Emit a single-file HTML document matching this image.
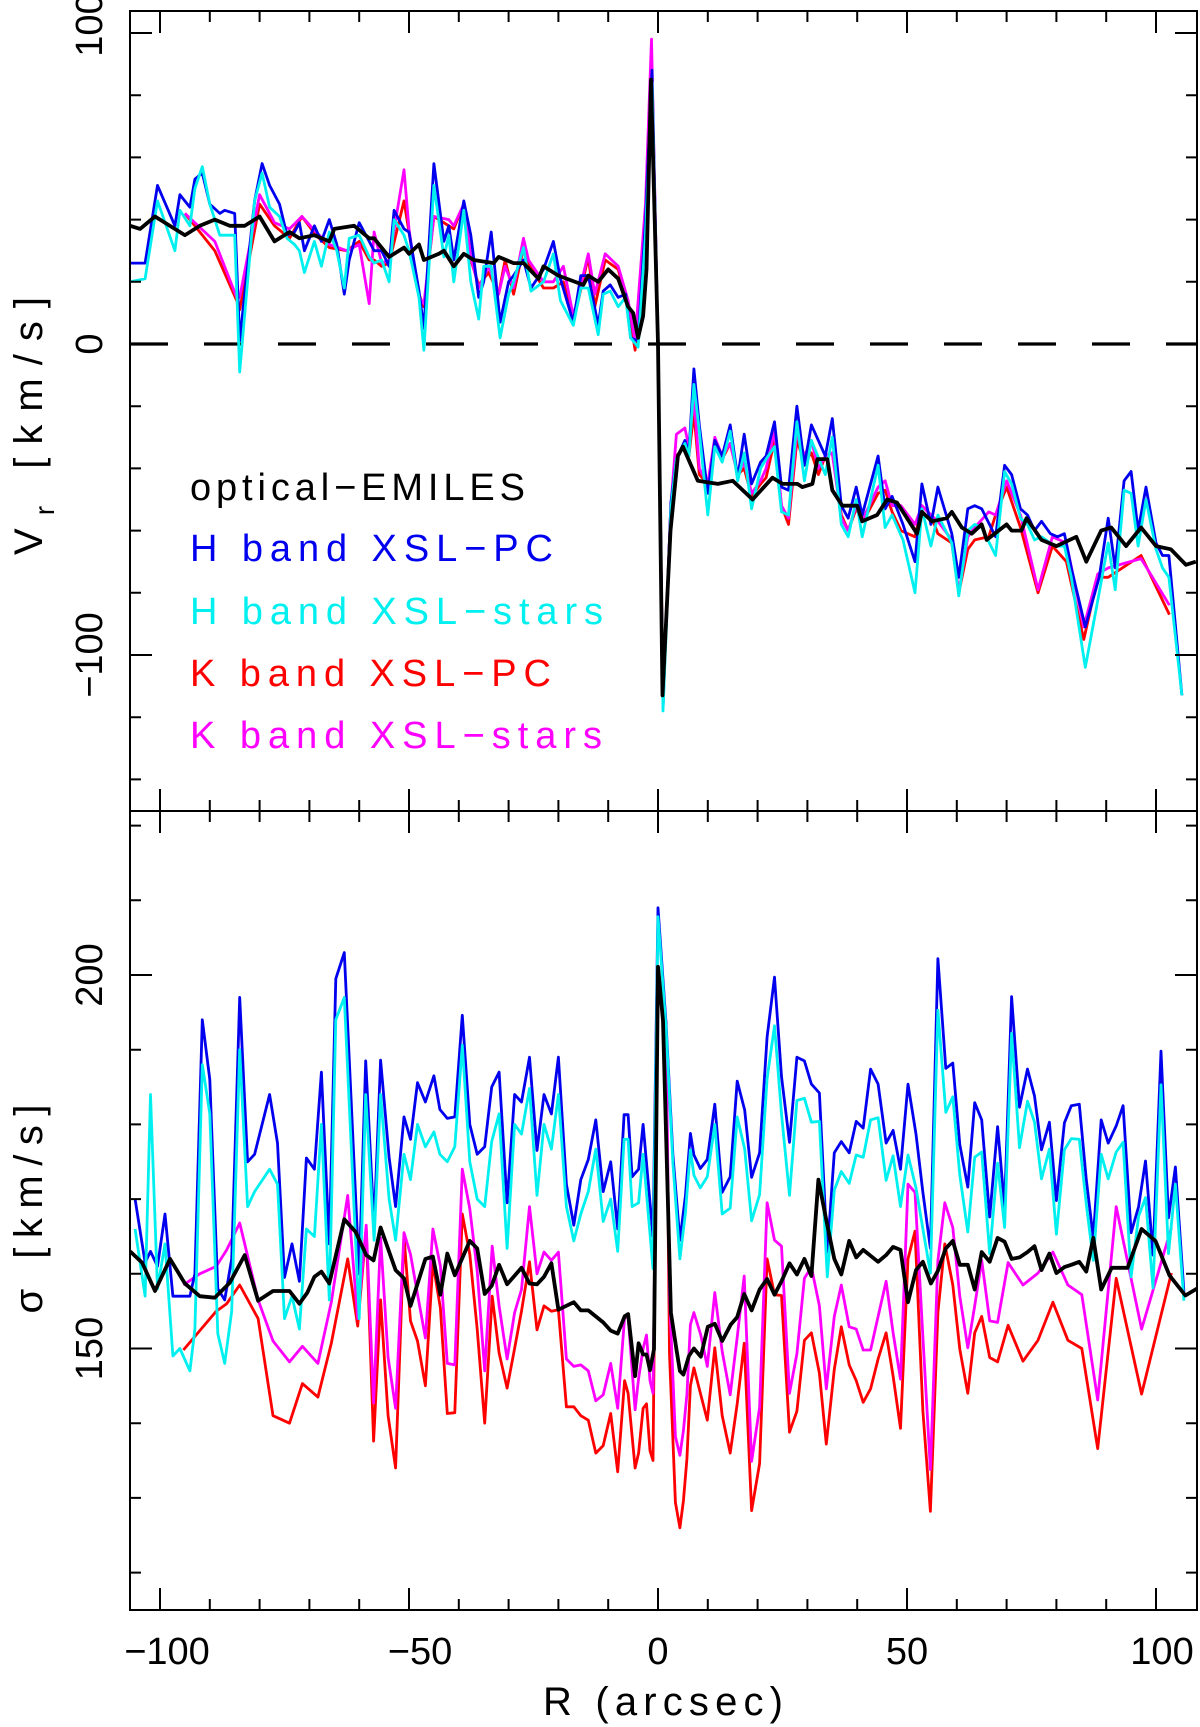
<!DOCTYPE html>
<html><head><meta charset="utf-8"><style>
html,body{margin:0;padding:0;background:#fff}
svg{display:block}
text{font-family:"Liberation Sans",sans-serif;fill:#000}
</style></head><body>
<svg id="chart" width="1200" height="1727" viewBox="0 0 1200 1727" xmlns="http://www.w3.org/2000/svg">
<defs>
<clipPath id="clipTop"><rect x="130" y="11" width="1067" height="800"/></clipPath>
<clipPath id="clipBot"><rect x="130" y="811" width="1067" height="799"/></clipPath>
</defs>
<g id="marks"></g>
<g id="axes"></g>
<text transform="translate(42,426) rotate(-90)" text-anchor="middle" font-size="40" textLength="258">V<tspan font-size="28" dy="12">r</tspan><tspan dy="-12"> [km/s]</tspan></text>
<text transform="translate(42,1209) rotate(-90)" text-anchor="middle" font-size="40" textLength="209">σ [km/s]</text>
<text x="663" y="1715" text-anchor="middle" font-size="40" textLength="240">R (arcsec)</text>
<g font-size="38">
<text x="190" y="500" textLength="335" style="fill:#000">optical−EMILES</text>
<text x="190" y="561" textLength="363" style="fill:#0000ee">H band XSL−PC</text>
<text x="190" y="624" textLength="413" style="fill:#00f0f0">H band XSL−stars</text>
<text x="190" y="686" textLength="361" style="fill:#ff0000">K band XSL−PC</text>
<text x="190" y="748" textLength="412" style="fill:#ff00ff">K band XSL−stars</text>
</g>
</svg>
<script>
// ---------- data: top panel (rotation velocity) ----------
const vrR_H = [-106,-103,-100.5,-97,-96,-94,-93,-91.5,-90,-88,-87,-85,-84,-81,-79.5,-78,-76,-74.5,-73,-72,-71,-69,-67.6,-66,-64.5,-63,-62,-60,-58,-57,-55.5,-54,-53,-51,-50,-48,-47,-45,-43,-42,-41,-39,-37.6,-36,-35,-33.5,-31.7,-30,-29,-27,-25.5,-23,-21,-19.6,-17,-15.5,-14,-12,-11,-9.6,-8,-6.5,-5.5,-4,-2.5,-1.2,0,1,2,
 2.6,3.7,5.4,6.2,7.2,8.3,10,11.4,12.9,14.5,16,17.3,18.8,20.6,21.7,23.4,24.8,26.2,27.9,29.4,30.8,33.6,35,36.8,38.2,39.8,41,44.2,45.6,47,49.2,51.6,53,54.8,56.2,59,60.4,62.2,63.6,65,67.8,69.6,71,72.8,74.2,75.6,77,78.8,80.2,81.6,83,85.8,88.6,90.4,91.8,93.6,95,96.4,98,100,101.3,102.6,105.2];
const vr_HPC = [26,26,51,38,48,44,53,55,45,42,43,42,1,46,58,51,45,35,36,39,30,38,33,40,32,16,27,39,33,30,30,25,43,37,36,17,5,58,33,38,27,46,35,15,20,36,7,20,22,27,18,24,33,21,7,22,22,6,17,19,15,16,2,1,40,88,0,-117,-75,
 -51,-37,-31,-35,-8,-26,-48,-31,-36,-26,-43,-29,-45,-38,-36,-25,-46,-47,-20,-39,-26,-36,-24,-52,-56,-46,-55,-36,-53,-49,-58,-70,-45,-58,-46,-61,-75,-53,-52,-53,-62,-39,-42,-53,-55,-60,-57,-61,-62,-61,-72,-91,-75,-56,-72,-44,-41,-60,-46,-64,-68,-68,-113];
const vr_HST = [20,21,46,30,43,38,50,57,45,35,35,35,-9,46,55,44,41,34,32,30,23,33,25,36,30,18,34,35,28,26,27,20,40,35,30,15,-2,51,28,35,20,43,20,8,25,25,2,16,20,31,17,20,29,14,6,18,18,3,16,17,12,15,2,-1,35,84,0,-118,-78,
 -53,-37,-32,-36,-13,-28,-55,-33,-38,-28,-44,-35,-53,-40,-37,-33,-54,-55,-25,-44,-31,-42,-30,-58,-62,-50,-62,-39,-59,-55,-63,-80,-53,-65,-55,-64,-81,-60,-58,-59,-68,-41,-45,-56,-58,-63,-62,-64,-65,-65,-75,-104,-80,-64,-79,-47,-48,-65,-50,-66,-72,-75,-113];
const vrR_K = [-95,-89,-84.6,-84,-80,-77,-74,-71.5,-68.7,-66,-62.5,-60,-58,-57,-55.5,-54,-51,-50,-48,-47,-45,-42,-41,-39,-37.6,-36,-34,-32,-30.7,-29,-27,-26,-23,-21,-19,-17,-14,-12.7,-10.6,-8,-6,-4.6,-2.5,-1.3,0,1,2,
 2.6,3.7,5.4,6.2,7.2,8.3,10,11.4,12.9,14.5,16,17.3,18.8,20.6,21.7,23.4,24.8,26.2,27.9,29.4,30.8,32.2,33.6,35,36.8,38.2,39.8,41.2,44.2,45.6,47,48.8,51.6,53,54.8,56.2,59,60.4,62.2,63.6,66.4,67.8,70,72.8,76.3,79.2,82,85.5,88.3,90.4,97,102.7];
const vr_KPC = [42,30,14,11,45,38,34,41,35,31,30,33,27,27,25,26,46,36,16,12,41,38,37,45,27,19,23,16,27,16,31,26,18,18,20,7,28,12,27,24,12,-2,40,90,0,-115,-75,
 -52,-36,-33,-36,-22,-42,-45,-31,-37,-32,-42,-40,-49,-45,-43,-31,-52,-58,-31,-38,-35,-42,-36,-35,-55,-60,-53,-57,-48,-47,-54,-60,-62,-52,-55,-61,-64,-80,-66,-63,-62,-55,-46,-59,-80,-65,-70,-95,-75,-75,-68,-87];
const vr_KST = [42,33,15,15,48,39,37,41,36,32,30,32,13,36,26,27,56,37,15,13,41,40,38,45,28,18,25,16,25,18,34,27,20,20,25,9,29,16,29,25,14,1,45,98,0,-115,-75,
 -52,-29,-27,-33,-17,-40,-45,-30,-36,-32,-42,-38,-48,-44,-40,-28,-52,-56,-28,-36,-31,-40,-36,-35,-56,-60,-52,-56,-46,-44,-52,-52,-58,-52,-55,-57,-63,-80,-62,-59,-54,-55,-44,-55,-79,-62,-64,-91,-74,-72,-69,-84];
const vrR_OPT = [-106,-104,-101,-95,-92,-89,-86,-83,-80,-77,-74,-72,-69,-66,-65,-61,-58,-57,-54,-51,-50,-48,-47,-44,-43,-41,-39,-37,-33,-32,-29,-27,-24,-23,-20,-15,-14,-12,-10,-8,-6,-5,-4,-3,-2.3,-1.4,0,0.9,2.5,4,
 5,8,12,15,19,23,25,28,29,31,32,34,35,37,40,41,44,46,48,52,53,55,58,59,61,63,65,66,70,71,73,74,77,80,84,86,89,91,94,97,100,103,106,108];
const vr_OPT = [38,37,41,35,38,40,38,38,41,33,36,34,35,33,37,38,34,34,28,31,29,32,27,29,30,25,29,27,26,28,26,26,21,25,22,19,22,20,24,21,12,10,2,9,24,85,0,-113,-60,-36,
 -33,-44,-45,-44,-50,-43,-45,-45,-46,-45,-37,-37,-47,-52,-52,-57,-55,-50,-51,-61,-54,-57,-56,-54,-59,-61,-58,-63,-58,-60,-60,-56,-63,-65,-62,-70,-60,-59,-65,-59,-65,-66,-71,-70];

// ---------- data: bottom panel (velocity dispersion) ----------
const sgR_H = [-105,-103,-101.9,-100.5,-99,-97.4,-96,-94,-93,-91.5,-90,-88.4,-87,-85.6,-84,-82.4,-81,-78,-76.4,-75,-73.5,-72,-70.6,-69,-67.6,-66,-64.7,-63,-60,-58.7,-57,-55.7,-54,-52.7,-51,-49.7,-48.3,-46.7,-45,-43.8,-42.3,-40.8,-39.3,-37.8,-36.3,-34.8,-33.4,-31.9,-30.3,-28.8,-27.4,-25.8,-24.3,-22.9,-21.4,-20,-18.4,-16.9,-15.5,-14,-12.5,-11,-9.5,-8.1,-6.8,-6,-5.2,-3.9,-3,-1,0,
 1.6,3,4.4,5.5,6.5,7.2,8.5,9.9,11.4,12.9,14.5,15.9,17.4,18.8,20.4,21.9,23.4,24.8,26.4,27.9,29.4,30.8,32.4,34,35.4,36.8,38.4,39.8,41.2,42.7,44.2,45.8,47.2,48.7,50.2,51.8,53.2,54.7,56.2,57.8,59.2,60.6,62.2,63.6,65,66.6,68.2,69.6,71,72.6,74.2,75.6,77,78.6,80,81.6,83,84.6,86,87.4,89,90.4,92,93.4,95,96.5,97.9,99.4,101,102.5,103.9,105.6];
const sg_HPC = [170,161.5,163,161,168,157,157,157,160,194,186,158,156.5,162,197,175,176,184,177.5,159.5,164,159,175.5,174,187,164,199.5,203,160,188.5,166.5,188.6,175.6,169,181,178,185.6,183,186.5,182,180.8,181,194.6,180,176,177,185,187,169.5,184,183,189,176.5,184,181.4,189,172,166.5,172.6,175.3,180.6,171,175,166,181.3,181.3,173,174,180,165,209,
 193.6,175.9,164.5,170.4,178.8,175.9,174.1,175.3,182.7,170.9,173,185.8,181.9,172.9,176.2,191.7,199.7,186.4,177.6,189,188.5,185.4,184.2,162.9,176.2,177.7,176.2,180.4,179.5,187.4,185.4,177.5,179.2,174,185.4,178.7,170.9,163.4,202.2,187.5,188.2,177.3,171.6,182.9,180.6,167.6,179.7,169,197.1,182.3,187.4,183.8,176.6,180.3,169.8,180.2,182.5,182.7,172.6,164.8,180.6,177.5,179.8,182.5,165.5,169,175.1,162.5,189.8,167.5,174.3,157.6];
const sg_HST = [166,157,184,158,164,149,150,147,152.6,188,181.4,152,148,155,190,169,171,174,172,154,157,152.6,166,165,180,156.5,194,197,154,184,164.5,184,170,164.5,176,172.6,180,177,179,176,175,177,190.6,175,170,169,177.7,181.4,163.4,180,178.7,184.8,170.5,180,176.7,184,169,164.4,168,171,176.7,167,170,163,178,178,169,169.5,176,160.7,207.8,
 193,174.8,162,168.1,176.6,173.2,171.5,173,180,168,168.8,181,176.7,167.1,170.6,186.1,193.2,181.4,170.5,183.2,183.5,180.3,180.4,159.6,171.2,173.7,172.1,175.9,175.6,180.6,180.9,172.5,175.8,169,175.9,171.5,166,160.1,195.3,181.6,183.7,173.2,165.6,175.6,176.3,162.7,174.8,166.2,192.2,176.9,183.1,180.3,172.7,176.7,165.3,176.6,178.1,178,169.3,161.8,176,172.7,176.3,177.6,159.6,167.7,170.2,158.1,185.3,162.7,172,156.4];
const sgR_K = [-95.3,-92,-88.7,-86.6,-84,-80.3,-77.3,-74,-71.4,-68.3,-65.6,-62.3,-60.3,-58.6,-57.1,-55.7,-54.2,-52.7,-51,-49.7,-48.3,-46.7,-45.2,-43.7,-42.3,-40.8,-39.3,-37.8,-36.3,-34.8,-33.3,-31.9,-30.3,-28.8,-27.4,-25.8,-24.3,-22.9,-21.4,-20,-18.4,-16.9,-15.5,-14,-12.5,-11,-9.5,-8.1,-6.7,-6,-4.6,-3.9,-3,-2.3,-1.6,-1,0,
 1.6,2.3,3.5,4.4,5.1,5.8,6.5,7.2,8.6,9.9,11.4,12.9,14.5,15.9,17.3,18.8,20.4,21.9,23.4,24.8,26.4,27.9,29.4,30.8,32.4,33.8,35.4,36.8,38.4,39.8,41.2,42.7,44.2,45.8,47.2,48.7,50.2,51.6,53.2,54.7,56.2,57.6,59.2,60.6,62.2,63.6,65,66.6,68.2,70.3,73.3,76.3,79.3,82.3,85.1,88.3,92,97.1,103.1];
const sg_KPC = [149.8,152.4,155,156,158.5,154,141,140,145.3,143.5,150.7,162,153,166,137.6,156.5,141,134,165,153.7,151,145,161.5,155.4,141.3,141.4,168,162.6,152.6,140,157,149.4,144.7,150,155,161.6,152.5,155.7,155,155.2,142.2,142.2,141,140.4,136,137,141.3,133.5,145.7,144,134,136,142,142.6,136.3,135,201,
 193.6,149.3,129.4,126,129.6,135.2,145,147.4,143.8,140.4,150.1,141,136,142.6,150.7,128.3,134.6,162,157.2,157.1,138.8,141.6,151.1,152.1,146.7,137.2,147.2,152.9,147.8,145.7,142.8,144.6,148.6,152.1,146.3,139.3,162,165.7,141.6,128.2,154.8,164,158.5,149.9,144,152.1,154.3,148.8,148.2,153.1,148.3,151.1,156.2,151.1,150,136.6,159.4,143.9,160.1];
const sg_KST = [158.5,160,161,163.2,166.8,156.5,151,148.2,150.3,148,156.2,170.5,154,166.5,142.7,164.8,148.8,142,165.5,162.6,157.3,151.4,166,161,148,147.8,174,168.7,160.4,147,163.7,155.7,148.6,154.8,157.9,169,160,162.9,161.8,162.9,148.6,147.6,147.8,147,143,143.8,148,142,154.2,154.3,141.8,146,150,151.8,145.7,144,200.8,
 192.5,157.1,138.2,135.7,139,143.8,153.2,154.8,151.8,147.6,157.5,149.6,143.8,151.5,159.7,134.9,142.1,169.5,164.5,163.7,144,149.3,159.4,160.9,155.7,144.6,154.3,158.5,152.9,152.6,149.8,149.8,154.3,159,152.1,145.9,172,170.9,151.5,133.8,161.8,169.5,166.2,157,150.1,155.7,161.8,153.7,153.5,161.5,158.5,160.1,162.9,158.5,157.2,143.1,169,152.6,166.2];
const sgR_OPT = [-106,-103.6,-101,-98,-95,-92,-89,-86,-83,-80.3,-77.3,-74,-72,-70.4,-69,-67.6,-66,-63,-60.7,-58.6,-57.1,-55.7,-52.7,-51,-49.7,-46.7,-45.2,-43.7,-42.3,-40.8,-37.8,-36.3,-34.8,-33.4,-31.9,-30.3,-27.4,-25.8,-24.3,-22.9,-21.4,-20,-16.9,-15.5,-14,-11,-9.5,-8.1,-6.7,-6,-4.6,-3.9,-3,-2.3,-1.6,-0.8,0,1,
 2.6,3.7,4.4,5.1,6.2,7.2,8.6,10,11.4,12.9,14.6,15.9,17.3,18.8,20.4,21.9,23.4,24.8,26.4,27.9,29.4,30.8,32.2,34,35.4,36.8,38.4,39.8,41.2,44.2,45.8,47.2,48.7,50.2,51.8,53.2,54.8,56.2,57.8,59.2,60.6,62.2,63.6,65,66.6,68.2,69.6,71,72.6,74.2,75.6,77,78.6,80,81.6,83,84.6,86,87.4,89,91.1,94.3,97.1,99.9,102.7,105.9,108.7];
const sg_OPT = [163,161.5,157.7,162,158.7,157,156.8,158.8,162.5,156.4,157.7,157.7,156,157.5,159.6,160.3,158.7,167.3,165.6,162.5,161.8,166.2,160.5,159.4,155.7,162,162.3,157.2,162.7,159.8,164.4,163.4,157.3,158.4,161.2,158.6,160.8,158.7,158.6,159.6,161.4,155.2,156.2,155.1,155.1,153.5,152.4,152,154.3,154.6,146.3,150.7,149.2,149.2,147.1,149.9,201.1,193.9,
 154.8,149.9,147,146.5,149,150,148.9,152.9,153.3,151,153.2,154.2,157.3,155.1,157.9,159.3,157.2,159,161.4,159.9,162,159.7,172.6,166.5,162,159.9,164.4,162.2,163.2,161.6,162.5,163.6,163.2,156.2,160.5,161.6,158.7,160.4,163.4,164.4,161.2,161.2,157.9,162.9,161.6,164.8,164.3,162,162.2,162.9,163.7,160.5,162.7,160.1,160.9,161.2,161.6,160.3,164.8,157.9,160.8,160.8,166,164.4,159.8,157.1,158.2];

const xTicks = [-100,-50,0,50,100];
const xTickLabels = ["−100","−50","0","50","100"];
const topTicks = [100,0,-100];
const topTickLabels = ["100","0","−100"];
const botTicks = [200,150];
const botTickLabels = ["200","150"];

// ---------- axis functions ----------
const X0=130, X1=1197, YT=11, YM=811, YB=1610;
const xs = r => 658 + 4.98*r;
const ysTop = v => 344 - 3.11*v;
const ysBot = v => 975 - 7.47*(v-200);

const NS='http://www.w3.org/2000/svg';
const marks=document.getElementById('marks');
const axes=document.getElementById('axes');
function mk(tag, attrs, parent){const e=document.createElementNS(NS,tag);for(const k in attrs)e.setAttribute(k,attrs[k]);parent.appendChild(e);return e;}

const gTop=mk('g',{'clip-path':'url(#clipTop)'},marks);


const gBot=mk('g',{'clip-path':'url(#clipBot)'},marks);



const zl=mk('line',{x1:X0,x2:X1,y1:ysTop(0),y2:ysTop(0),stroke:'#000','stroke-width':3.2,'stroke-dasharray':'38 36'},gTop);



function series(g, R, V, ys, color, w, name){
  let d='';
  for(let i=0;i<R.length && i<V.length;i++){d+=(i?'L':'M')+xs(R[i]).toFixed(1)+','+ys(V[i]).toFixed(1);}
  const p=mk('path',{d:d,fill:'none',stroke:color,'stroke-width':w,'stroke-linejoin':'round'},g);
  
  
}
series(gTop,vrR_K,vr_KPC,ysTop,'#ff0000',2.8,'vr-k-band-xsl-pc-line');
series(gTop,vrR_K,vr_KST,ysTop,'#ff00ff',2.8,'vr-k-band-xsl-stars-line');
series(gTop,vrR_H,vr_HPC,ysTop,'#0000ee',2.8,'vr-h-band-xsl-pc-line');
series(gTop,vrR_H,vr_HST,ysTop,'#00f0f0',2.8,'vr-h-band-xsl-stars-line');
series(gTop,vrR_OPT,vr_OPT,ysTop,'#000',3.8,'vr-optical-emiles-line');
series(gBot,sgR_K,sg_KPC,ysBot,'#ff0000',2.8,'sigma-k-band-xsl-pc-line');
series(gBot,sgR_K,sg_KST,ysBot,'#ff00ff',2.8,'sigma-k-band-xsl-stars-line');
series(gBot,sgR_H,sg_HPC,ysBot,'#0000ee',2.8,'sigma-h-band-xsl-pc-line');
series(gBot,sgR_H,sg_HST,ysBot,'#00f0f0',2.8,'sigma-h-band-xsl-stars-line');
series(gBot,sgR_OPT,sg_OPT,ysBot,'#000',3.8,'sigma-optical-emiles-line');

const f1=mk('rect',{x:X0,y:YT,width:X1-X0,height:YM-YT,fill:'none',stroke:'#000','stroke-width':2},axes);


const f2=mk('rect',{x:X0,y:YM,width:X1-X0,height:YB-YM,fill:'none',stroke:'#000','stroke-width':2},axes);



let td='';
for(let r=-100;r<=100;r+=10){
  const x=xs(r), L=(r%50===0)?22:11;
  td+=`M${x},${YT}v${L}M${x},${YM}v${-L}M${x},${YM}v${L}M${x},${YB}v${-L}`;
}
for(let v=-140;v<=100;v+=20){
  const y=ysTop(v), L=(v%100===0)?22:11;
  td+=`M${X0},${y}h${L}M${X1},${y}h${-L}`;
}
for(let v=120;v<=220;v+=10){
  const y=ysBot(v), L=(v%50===0)?22:11;
  td+=`M${X0},${y}h${L}M${X1},${y}h${-L}`;
}
const tk=mk('path',{d:td,stroke:'#000','stroke-width':2,fill:'none'},axes);



const xlOff=[7,11,0,0,6];
xTicks.forEach((r,i)=>{
  const t=mk('text',{x:xs(r)+xlOff[i],y:1664,'text-anchor':'middle','font-size':38},axes);
  t.textContent=xTickLabels[i];
  
  
});
const topOff=[-8,0,0];
topTicks.forEach((v,i)=>{
  const t=mk('text',{transform:`translate(102,${ysTop(v)+topOff[i]}) rotate(-90)`,'text-anchor':'middle','font-size':38},axes);
  t.textContent=topTickLabels[i];
  
  
});
botTicks.forEach((v,i)=>{
  const t=mk('text',{transform:`translate(102,${ysBot(v)}) rotate(-90)`,'text-anchor':'middle','font-size':38},axes);
  t.textContent=botTickLabels[i];
  
  
});
</script>
</body></html>
